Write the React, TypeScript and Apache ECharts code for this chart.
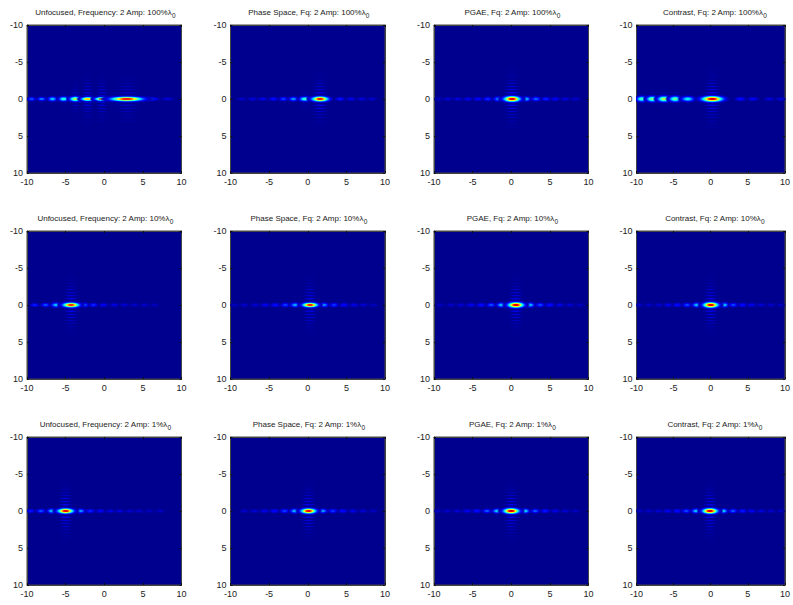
import React, { useEffect, useRef } from "react";
import * as echarts from "echarts";

const tickValues = [-10, -5, 0, 5, 10];

const panelTitles = [
  "Unfocused, Frequency: 2 Amp: 100%λ", "Phase Space, Fq: 2 Amp: 100%λ", "PGAE, Fq: 2 Amp: 100%λ", "Contrast, Fq: 2 Amp: 100%λ",
  "Unfocused, Frequency: 2 Amp: 10%λ", "Phase Space, Fq: 2 Amp: 10%λ", "PGAE, Fq: 2 Amp: 10%λ", "Contrast, Fq: 2 Amp: 10%λ",
  "Unfocused, Frequency: 2 Amp: 1%λ", "Phase Space, Fq: 2 Amp: 1%λ", "PGAE, Fq: 2 Amp: 1%λ", "Contrast, Fq: 2 Amp: 1%λ",
];

// lobes along the y = 0 ridge: [x, peak (0..1), half width, half height]
const lobes1 = [[-9.4,.2,.55,.25],[-8.1,.25,.6,.25],[-6.7,.32,.65,.3],[-5.25,.42,.75,.32],[-3.75,.58,.9,.36],[-2.15,.74,1.05,.42],[-.3,.72,1.15,.42],[5.2,.34,1.7,.25],[2.9,.92,2.6,.5],[8.2,.07,.8,.2]];
const lobes2 = [[-8.5,.06,.6,.2],[-7.15,.08,.6,.2],[-5.85,.1,.6,.2],[-4.45,.13,.6,.22],[-3.15,.18,.6,.25],[-1.85,.27,.65,.28],[-.35,.45,.85,.32],[4.2,.14,.6,.22],[5.6,.1,.6,.2],[7,.08,.6,.2],[8.3,.06,.6,.2],[1.6,.92,1.35,.55]];
const lobes3 = [[-9.4,.05,.55,.2],[-8.2,.07,.6,.2],[-6.9,.08,.6,.2],[-5.6,.1,.6,.2],[-4.3,.12,.6,.22],[-3.05,.16,.6,.25],[-1.7,.25,.65,.3],[1.9,.33,.7,.3],[3.2,.22,.65,.27],[4.5,.15,.6,.24],[5.7,.11,.6,.22],[7,.08,.6,.2],[8.3,.06,.6,.2],[.1,.96,1.35,.62]];
const lobes4 = [[-9.3,.46,.8,.38],[-7.9,.52,.9,.4],[-6.3,.58,1.05,.42],[-4.8,.5,.95,.4],[-3.1,.37,1,.35],[4,.13,.7,.24],[5.7,.11,.7,.22],[7.9,.08,.7,.2],[9.4,.08,.6,.2],[.2,.96,1.8,.62]];
const lobes5 = [[-9,.15,.55,.22],[-7.6,.2,.6,.25],[-6.25,.32,.7,.3],[-2.6,.22,.6,.27],[-1.4,.16,.55,.24],[-.1,.11,.55,.22],[1.3,.09,.55,.2],[2.6,.07,.55,.2],[3.9,.06,.55,.2],[5.2,.06,.55,.2],[6.5,.05,.55,.2],[-4.3,.9,1.35,.52]];
const lobes6 = [[-9.5,.05,.55,.2],[-8.2,.06,.55,.2],[-6.8,.07,.55,.2],[-5.5,.1,.6,.22],[-4.2,.13,.6,.24],[-2.9,.18,.6,.26],[-1.65,.29,.65,.3],[2.1,.26,.65,.28],[3.4,.17,.6,.26],[4.7,.12,.6,.24],[6,.09,.55,.22],[7.2,.07,.55,.2],[8.5,.05,.55,.2],[.3,.92,1.25,.5]];
const lobes7 = [[-9.2,.05,.55,.2],[-7.8,.06,.55,.2],[-6.5,.07,.55,.2],[-5.2,.1,.6,.22],[-3.9,.13,.6,.24],[-2.6,.2,.6,.26],[-1.3,.32,.65,.3],[2.45,.32,.65,.3],[3.75,.19,.6,.26],[5,.13,.6,.24],[6.3,.09,.55,.22],[7.6,.07,.55,.2],[8.9,.05,.55,.2],[.6,.97,1.3,.6]];
const lobes8 = [[-9.6,.05,.55,.2],[-8.3,.06,.55,.2],[-7,.07,.55,.2],[-5.7,.1,.6,.22],[-4.5,.13,.6,.24],[-3.2,.19,.6,.26],[-1.9,.32,.65,.3],[1.85,.32,.65,.3],[3.05,.19,.6,.26],[4.3,.13,.6,.24],[5.5,.1,.6,.22],[6.8,.07,.55,.2],[8.1,.06,.55,.2],[9.4,.05,.5,.2],[0,.97,1.3,.6]];
const lobes9 = [[-9.5,.13,.55,.22],[-8.2,.2,.6,.25],[-6.8,.32,.65,.3],[-3.05,.27,.65,.28],[-1.8,.15,.6,.24],[-.5,.11,.55,.22],[.8,.09,.55,.2],[2,.08,.55,.2],[3.3,.06,.55,.2],[4.5,.06,.55,.2],[5.8,.05,.55,.2],[7.2,.05,.55,.2],[-5,.95,1.3,.56]];
const lobes10 = [[-8.2,.06,.55,.2],[-6.9,.07,.55,.2],[-5.6,.09,.6,.22],[-4.3,.12,.6,.24],[-3,.18,.6,.26],[-1.7,.31,.65,.3],[1.95,.28,.65,.28],[3.25,.17,.6,.26],[4.55,.12,.6,.24],[5.85,.09,.55,.22],[7.15,.07,.55,.2],[8.45,.05,.55,.2],[.1,.95,1.25,.56]];
const lobes11 = [[-9.5,.05,.55,.2],[-8.3,.06,.55,.2],[-7,.07,.55,.2],[-5.7,.1,.6,.22],[-4.45,.13,.6,.24],[-3.15,.21,.6,.26],[-1.85,.34,.65,.3],[1.8,.35,.65,.3],[3.1,.21,.6,.26],[4.4,.14,.6,.24],[5.7,.09,.55,.22],[7,.07,.55,.2],[8.3,.05,.55,.2],[0,.97,1.3,.6]];
const lobes12 = [[-9.55,.05,.55,.2],[-8.35,.06,.55,.2],[-7.05,.07,.55,.2],[-5.8,.1,.6,.22],[-4.5,.13,.6,.24],[-3.3,.19,.6,.26],[-2,.32,.65,.3],[1.7,.34,.65,.3],[3,.21,.6,.26],[4.3,.14,.6,.24],[5.5,.1,.6,.22],[6.8,.08,.55,.2],[8.1,.06,.55,.2],[9.4,.05,.5,.2],[-.1,.97,1.3,.6]];

// vertical side-lobe columns: [x, half width, half height, strength (0..1)]
const fringes1 = [[-5.25,.6,2,.25],[-3.75,.7,4,.5],[-2.15,.8,5,.75],[-.3,.8,5,.7],[3,1.6,5,.6],[1.3,.5,2.5,.25]];
const fringes2 = [[1.6,1.1,5,.95],[-.35,.7,3,.35]];
const fringes3 = [[.1,1.1,5.5,1]];
const fringes4 = [[.2,1.2,5.5,.95],[-6.3,.7,2.5,.25],[-4.8,.7,2.5,.25],[-7.9,.6,2,.2]];
const fringes5 = [[-4.3,1,5.5,.95],[-6.25,.6,2,.2]];
const fringes6 = [[.3,1,5.5,.95]];
const fringes7 = [[.6,1,5.5,1]];
const fringes8 = [[0,1,5.5,1]];
const fringes9 = [[-5,1,5.5,1]];
const fringes10 = [[.1,1,5.5,1]];
const fringes11 = [[0,1,5.5,1]];
const fringes12 = [[-.1,1,5.5,1]];

const allLobes = [lobes1, lobes2, lobes3, lobes4, lobes5, lobes6, lobes7, lobes8, lobes9, lobes10, lobes11, lobes12];
const allFringes = [fringes1, fringes2, fringes3, fringes4, fringes5, fringes6, fringes7, fringes8, fringes9, fringes10, fringes11, fringes12];

const columnLefts = [27, 230.5, 434, 636.5];
const rowTops = [25, 231, 437];
const panelWidth = 154.5;
const panelHeight = 148;
const lobeWidthScale = 1.4;
const mainHeightScale = 1.1;
const sideHeightScale = 1.6;

const jetAnchors: [number, number[]][] = [
  [0, [0, 0, 143]], [0.11, [0, 0, 255]], [0.36, [0, 255, 255]],
  [0.62, [255, 255, 0]], [0.87, [255, 0, 0]], [1, [127, 0, 0]],
];
function jet(v: number, alpha: number) {
  for (let i = 1; i < jetAnchors.length; i++) {
    const [a, ca] = jetAnchors[i - 1];
    const [b, cb] = jetAnchors[i];
    if (v <= b) {
      const t = (v - a) / (b - a);
      const c = ca.map((k, j) => Math.round(k + (cb[j] - k) * t));
      return `rgba(${c[0]},${c[1]},${c[2]},${alpha})`;
    }
  }
  return "rgba(127,0,0,1)";
}

const gradientCache: Record<string, any> = {};
function lobeFill(peak: number) {
  const key = peak.toFixed(3);
  if (gradientCache[key]) return gradientCache[key];
  const floor = 0.012;
  const levels = [peak, peak * 0.9, .87, .75, .62, .5, .36, .25, .16, .11, .07, .04, .02, floor]
    .filter((l, i) => i < 2 || l < peak * 0.9)
    .filter((l) => l >= floor);
  const span = Math.log(peak / floor);
  const stops = levels.map((l) => ({
    offset: Math.min(1, Math.sqrt(Math.log(peak / l) / span)),
    color: jet(l, Math.min(1, l / 0.04)),
  }));
  stops.push({ offset: 1, color: jet(0, 0) });
  return (gradientCache[key] = new echarts.graphic.RadialGradient(0.5, 0.5, 0.5, stops));
}

const stripeStep = 0.42;

function renderLobe(_: any, api: any) {
  const c = api.coord([api.value(0), 0]);
  const s = api.size([api.value(2), api.value(3)]);
  const peak = api.value(1);
  return {
    type: "ellipse",
    shape: { cx: c[0], cy: c[1], rx: s[0] * lobeWidthScale, ry: s[1] * (peak > 0.6 ? mainHeightScale : sideHeightScale) },
    style: { fill: lobeFill(peak) },
  };
}

function renderFringe(_: any, api: any) {
  const x = api.value(0);
  const halfH = api.value(2);
  const strength = api.value(3);
  const s = api.size([api.value(1), stripeStep]);
  const children: any[] = [];
  for (let y = stripeStep; y <= halfH; y += stripeStep) {
    const fall = Math.pow(1 - y / (halfH + stripeStep), 2.2);
    const level = Math.max(0.013, 0.15 * strength * fall);
    for (const sign of [-1, 1]) {
      const c = api.coord([x, sign * y]);
      children.push({
        type: "ellipse",
        shape: { cx: c[0], cy: c[1], rx: s[0] * (0.8 + 0.4 * fall), ry: 1.1 },
        style: { fill: lobeFill(level) },
      });
    }
  }
  return { type: "group", children };
}

function buildOption() {
  const grid: any[] = [], xAxis: any[] = [], yAxis: any[] = [], series: any[] = [], title: any[] = [];
  const axisCommon = {
    type: "value",
    min: tickValues[0],
    max: tickValues[tickValues.length - 1],
    interval: tickValues[1] - tickValues[0],
    splitLine: { show: false },
    axisLine: { show: true, onZero: false, lineStyle: { color: "#444", width: 1 } },
    axisTick: { show: true, inside: true, length: 2, lineStyle: { color: "#111" } },
    axisLabel: { color: "#222", fontSize: 9, fontFamily: "Liberation Sans", margin: 4, hideOverlap: false, showMinLabel: true, showMaxLabel: true },
  };
  const mirror = { axisLabel: { show: false } };
  panelTitles.forEach((text, i) => {
    const col = i % 4;
    const row = Math.floor(i / 4);
    const left = columnLefts[col];
    const top = rowTops[row];
    grid.push({
      left, top, width: panelWidth, height: panelHeight,
      show: true, backgroundColor: "#00008f", borderColor: "#444", borderWidth: 1,
    });
    xAxis.push({ ...axisCommon, gridIndex: i, position: "bottom" });
    xAxis.push({ ...axisCommon, ...mirror, gridIndex: i, position: "top" });
    yAxis.push({ ...axisCommon, gridIndex: i, inverse: true, position: "left" });
    yAxis.push({ ...axisCommon, ...mirror, gridIndex: i, inverse: true, position: "right" });
    title.push({
      text: `${text}{sub|0}`,
      left: left + panelWidth / 2 + 1,
      top: top - 20,
      textAlign: "center",
      padding: 0,
      textStyle: {
        fontFamily: "Liberation Sans", fontSize: 8, fontWeight: "normal", color: "#222", lineHeight: 14,
        rich: { sub: { fontFamily: "Liberation Sans", fontSize: 6.5, color: "#222", verticalAlign: "bottom", lineHeight: 8, padding: [5, 0, 0, 0] } },
      },
    });
    series.push({
      type: "custom", coordinateSystem: "cartesian2d", xAxisIndex: i * 2, yAxisIndex: i * 2,
      clip: true, silent: true, renderItem: renderFringe, data: allFringes[i],
      encode: { x: 0 },
    });
    series.push({
      type: "custom", coordinateSystem: "cartesian2d", xAxisIndex: i * 2, yAxisIndex: i * 2,
      clip: true, silent: true, renderItem: renderLobe, data: allLobes[i],
      encode: { x: 0 },
    });
  });
  return { animation: false, backgroundColor: "#ffffff", title, grid, xAxis, yAxis, series };
}

export default function App() {
  const ref = useRef<HTMLDivElement>(null);
  useEffect(() => {
    const chart = echarts.init(ref.current!, null, { renderer: "svg" });
    chart.setOption(buildOption() as any);
    return () => chart.dispose();
  }, []);
  return <div ref={ref} style={{ position: "fixed", left: 0, top: 0, width: 793, height: 605 }} />;
}
